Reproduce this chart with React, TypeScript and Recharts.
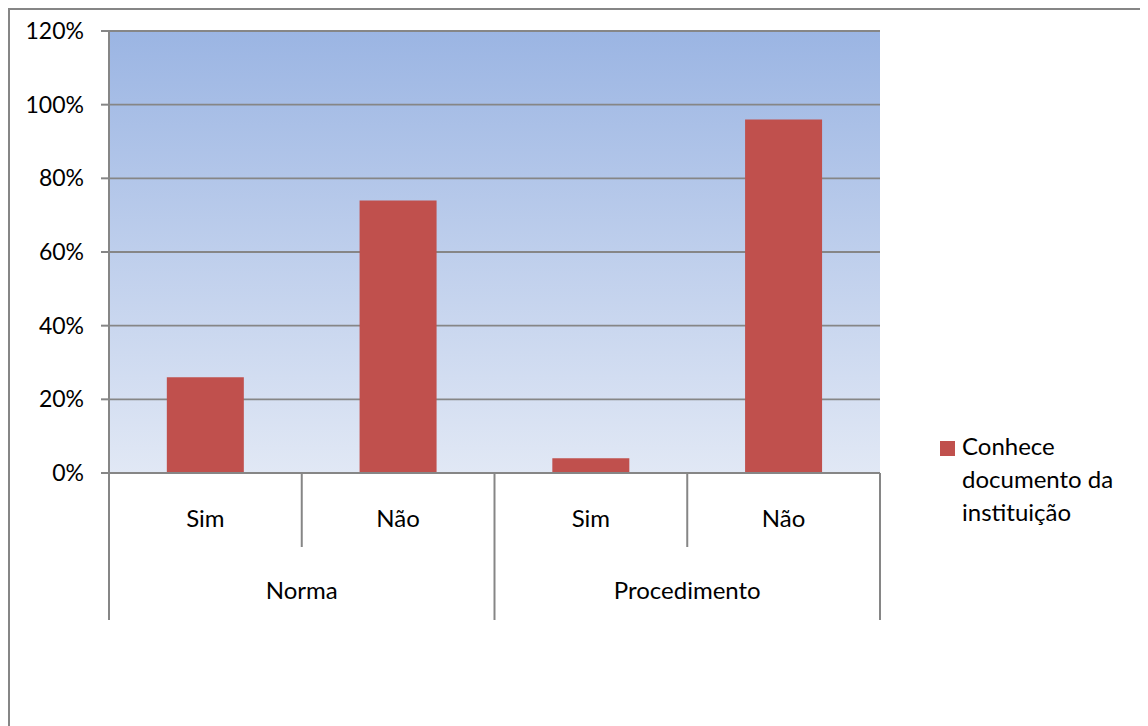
import { BarChart, Bar, XAxis, YAxis, CartesianGrid } from 'recharts';

const categories = ['Sim', 'Não', 'Sim', 'Não'];
const groups = ['Norma', 'Norma', 'Procedimento', 'Procedimento'];
const conhece = [0.26, 0.74, 0.04, 0.96];
const yTicks = [0, 0.2, 0.4, 0.6, 0.8, 1.0, 1.2];

const seriesName = 'Conhece documento da instituição';
const barColor = '#C0504D';
const lineColor = '#868686';
const labelSize = 24;
const tickSize = 23;

const data = categories.map((c, i) => ({
  id: `${groups[i]}-${c}-${i}`,
  cat: c,
  group: groups[i],
  value: conhece[i],
}));

const pct = (v: number) => `${Math.round(v * 100)}%`;

// two-level category axis: sub labels, separators and group labels
function CategoryTick(props: any) {
  const { x, y, payload } = props;
  const i = payload.index;
  const half = payload.offset;
  const shortLen = 74;
  const longLen = 147;
  const firstOfGroup = i === 0 || groups[i - 1] !== groups[i];
  const last = i === data.length - 1;
  let groupSize = 0;
  if (firstOfGroup) {
    for (let k = i; k < groups.length && groups[k] === groups[i]; k++) groupSize++;
  }
  const groupCenter = x - half + groupSize * half;
  return (
    <g>
      <line
        x1={x - half}
        x2={x - half}
        y1={y}
        y2={y + (firstOfGroup ? longLen : shortLen)}
        stroke={lineColor}
        strokeWidth={2}
      />
      {last && (
        <line x1={x + half} x2={x + half} y1={y} y2={y + longLen} stroke={lineColor} strokeWidth={2} />
      )}
      <text x={x} y={y + 44} textAnchor="middle" dominantBaseline="central" fill="#000" fontSize={labelSize}>
        {categories[i]}
      </text>
      {firstOfGroup && (
        <text x={groupCenter} y={y + 116} textAnchor="middle" dominantBaseline="central" fill="#000" fontSize={labelSize}>
          {groups[i]}
        </text>
      )}
    </g>
  );
}

function LegendBox() {
  return (
    <div
      style={{
        position: 'absolute',
        left: 930,
        top: 419,
        display: 'flex',
        alignItems: 'flex-start',
        fontSize: labelSize,
        color: '#000',
      }}
    >
      <div style={{ width: 15, height: 15, background: barColor, marginTop: 12, marginRight: 7 }} />
      <div style={{ width: 175, lineHeight: '33px' }}>{seriesName}</div>
    </div>
  );
}

export default function App() {
  return (
    <div
      style={{
        position: 'relative',
        width: 1140,
        height: 718,
        boxSizing: 'border-box',
        borderLeft: `2px solid ${lineColor}`,
        borderTop: `2px solid ${lineColor}`,
        fontFamily: "Lato, 'Open Sans', sans-serif",
        background: '#fff',
      }}
    >
      <BarChart
        width={1138}
        height={716}
        data={data}
        margin={{ top: 21, right: 268, left: 0, bottom: 0 }}
        barCategoryGap="30%"
      >
        <defs>
          <linearGradient id="plotBg" x1="0" y1="0" x2="0" y2="1">
            <stop offset="0%" stopColor="#9BB5E3" />
            <stop offset="100%" stopColor="#E1E8F5" />
          </linearGradient>
        </defs>
        <CartesianGrid vertical={false} stroke={lineColor} strokeWidth={1.8} fill="url(#plotBg)" fillOpacity={1} />
        <XAxis
          dataKey="id"
          height={253}
          tickLine={false}
          tickSize={0}
          tickMargin={0}
          axisLine={{ stroke: lineColor, strokeWidth: 2 }}
          tick={<CategoryTick />}
          interval={0}
        />
        <YAxis
          width={99}
          domain={[0, 1.2]}
          ticks={yTicks}
          tickFormatter={pct}
          tickSize={8}
          tickMargin={17}
          axisLine={{ stroke: lineColor, strokeWidth: 2 }}
          tickLine={{ stroke: lineColor, strokeWidth: 2 }}
          tick={{ fill: '#000', fontSize: tickSize }}
          interval={0}
        />
        <Bar dataKey="value" name={seriesName} fill={barColor} isAnimationActive={false} />
      </BarChart>
      <LegendBox />
    </div>
  );
}
